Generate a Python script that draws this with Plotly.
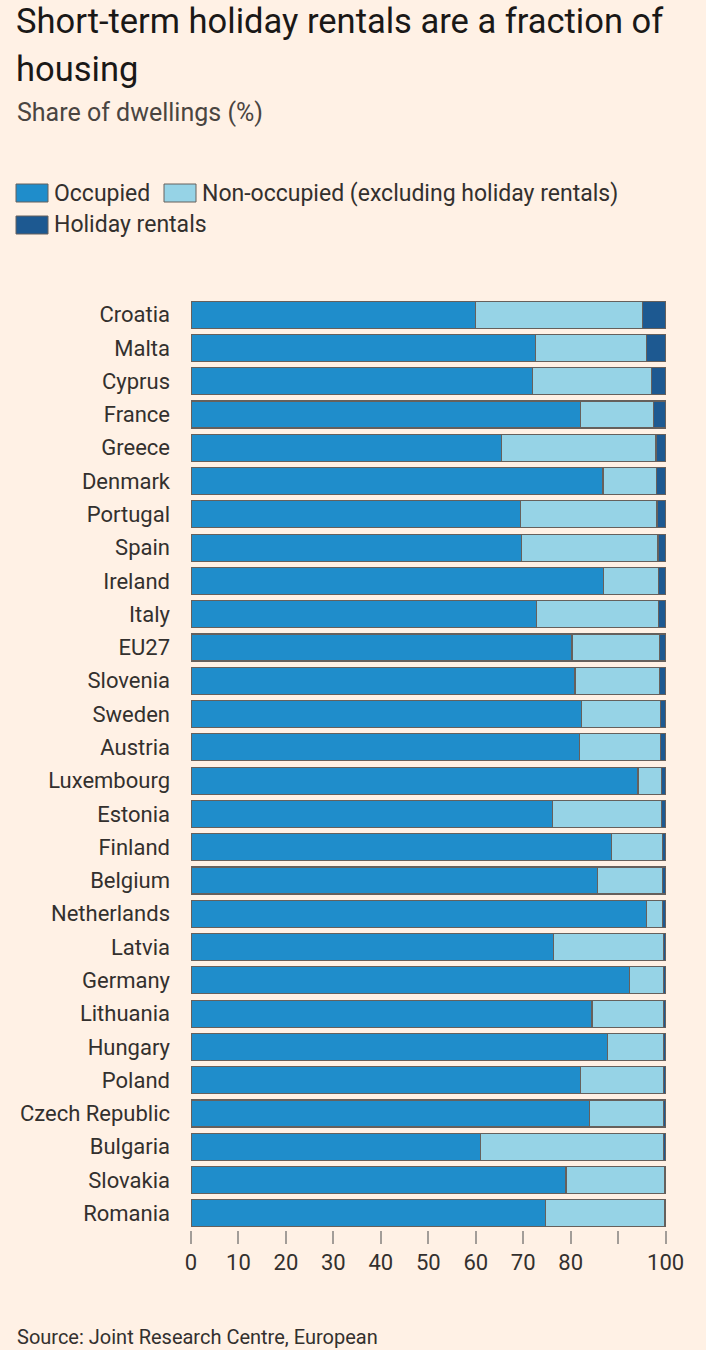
import plotly.graph_objects as go

countries = [
    "Croatia", "Malta", "Cyprus", "France", "Greece", "Denmark", "Portugal",
    "Spain", "Ireland", "Italy", "EU27", "Slovenia", "Sweden", "Austria",
    "Luxembourg", "Estonia", "Finland", "Belgium", "Netherlands", "Latvia",
    "Germany", "Lithuania", "Hungary", "Poland", "Czech Republic", "Bulgaria",
    "Slovakia", "Romania",
]
occupied = [
    60.0, 72.6, 71.9, 82.1, 65.5, 86.8, 69.4, 69.6, 86.9, 72.8, 80.3, 80.9,
    82.2, 81.8, 94.2, 76.1, 88.6, 85.7, 95.9, 76.3, 92.4, 84.5, 87.7, 82.0,
    83.9, 61.0, 79.0, 74.7,
]
non_occupied = [
    35.2, 23.4, 25.1, 15.4, 32.5, 11.3, 28.8, 28.8, 11.6, 25.7, 18.5, 17.9,
    16.8, 17.2, 5.0, 23.0, 10.7, 13.6, 3.5, 23.2, 7.1, 15.0, 11.8, 17.6,
    15.7, 38.6, 20.7, 25.0,
]
holiday = [
    4.8, 4.0, 3.0, 2.5, 2.0, 1.9, 1.8, 1.6, 1.5, 1.5, 1.2, 1.2, 1.0, 1.0,
    0.8, 0.9, 0.7, 0.7, 0.6, 0.5, 0.5, 0.5, 0.5, 0.4, 0.4, 0.4, 0.3, 0.3,
]
series_names = ["Occupied", "Non-occupied (excluding holiday rentals)", "Holiday rentals"]
colors = ["#1f8dcb", "#96d3e6", "#1d5991"]
tick_vals = [0, 10, 20, 30, 40, 50, 60, 70, 80, 90, 100]
tick_text = ["0", "10", "20", "30", "40", "50", "60", "70", "80", "", "100"]

W, H = 706, 1350
ML, MR, MT, MB = 191, 39, 298, 120
PW, PH = W - ML - MR, H - MT - MB
FONT = "Roboto, Noto Sans, sans-serif"
INK = "#33302e"


def px(x):
    return (x - ML) / PW


def py(y):
    return (H - MB - y) / PH


fig = go.Figure()
for name, vals, col in zip(series_names, [occupied, non_occupied, holiday], colors):
    fig.add_trace(go.Bar(
        name=name, y=countries, x=vals, orientation="h",
        marker=dict(color=col, line=dict(color="#66605c", width=1.2)),
        showlegend=False,
    ))

# title block
fig.add_annotation(x=px(14), y=py(21), xref="paper", yref="paper", xanchor="left",
                   yanchor="middle", showarrow=False,
                   text="Short-term holiday rentals are a fraction of",
                   font=dict(family=FONT, size=34.5, color="#1a1817"))
fig.add_annotation(x=px(14), y=py(69), xref="paper", yref="paper", xanchor="left",
                   yanchor="middle", showarrow=False, text="housing",
                   font=dict(family=FONT, size=34.5, color="#1a1817"))
fig.add_annotation(x=px(15), y=py(112), xref="paper", yref="paper", xanchor="left",
                   yanchor="middle", showarrow=False, text="Share of dwellings (%)",
                   font=dict(family=FONT, size=25, color="#4a4541"))

# legend
legend_items = [(16, 193, 0), (164, 193, 1), (16, 225, 2)]
for lx, ly, i in legend_items:
    fig.add_shape(type="rect", xref="paper", yref="paper",
                  x0=px(lx), x1=px(lx + 32), y0=py(ly - 9), y1=py(ly + 9),
                  fillcolor=colors[i], line=dict(color="#66605c", width=1))
    fig.add_annotation(x=px(lx + 36), y=py(ly), xref="paper", yref="paper",
                       xanchor="left", yanchor="middle", showarrow=False,
                       text=series_names[i],
                       font=dict(family=FONT, size=23, color=INK))

# source
fig.add_annotation(x=px(15), y=py(1337), xref="paper", yref="paper", xanchor="left",
                   yanchor="middle", showarrow=False,
                   text="Source: Joint Research Centre, European",
                   font=dict(family=FONT, size=20, color=INK))

fig.update_layout(
    width=W, height=H, barmode="stack", bargap=0.19,
    margin=dict(l=ML, r=MR, t=MT, b=MB),
    paper_bgcolor="#fff1e5", plot_bgcolor="#fff1e5",
    font=dict(family=FONT, size=22, color=INK),
)
fig.update_xaxes(range=[0, 100.3], tickvals=tick_vals, ticktext=tick_text,
                 ticks="outside", ticklen=13, tickcolor="#a39d98", tickwidth=1.5,
                 showgrid=False, zeroline=False, showline=False,
                 tickfont=dict(size=22, color=INK), ticklabelstandoff=0)
fig.update_yaxes(categoryorder="array", categoryarray=countries[::-1],
                 range=[-0.5, len(countries) - 0.5], showgrid=False,
                 ticks="", ticklabelstandoff=20,
                 tickfont=dict(size=22, color=INK))

fig.write_html("out.html", config={"displayModeBar": False},
               post_script="document.body.style.margin='0';")
